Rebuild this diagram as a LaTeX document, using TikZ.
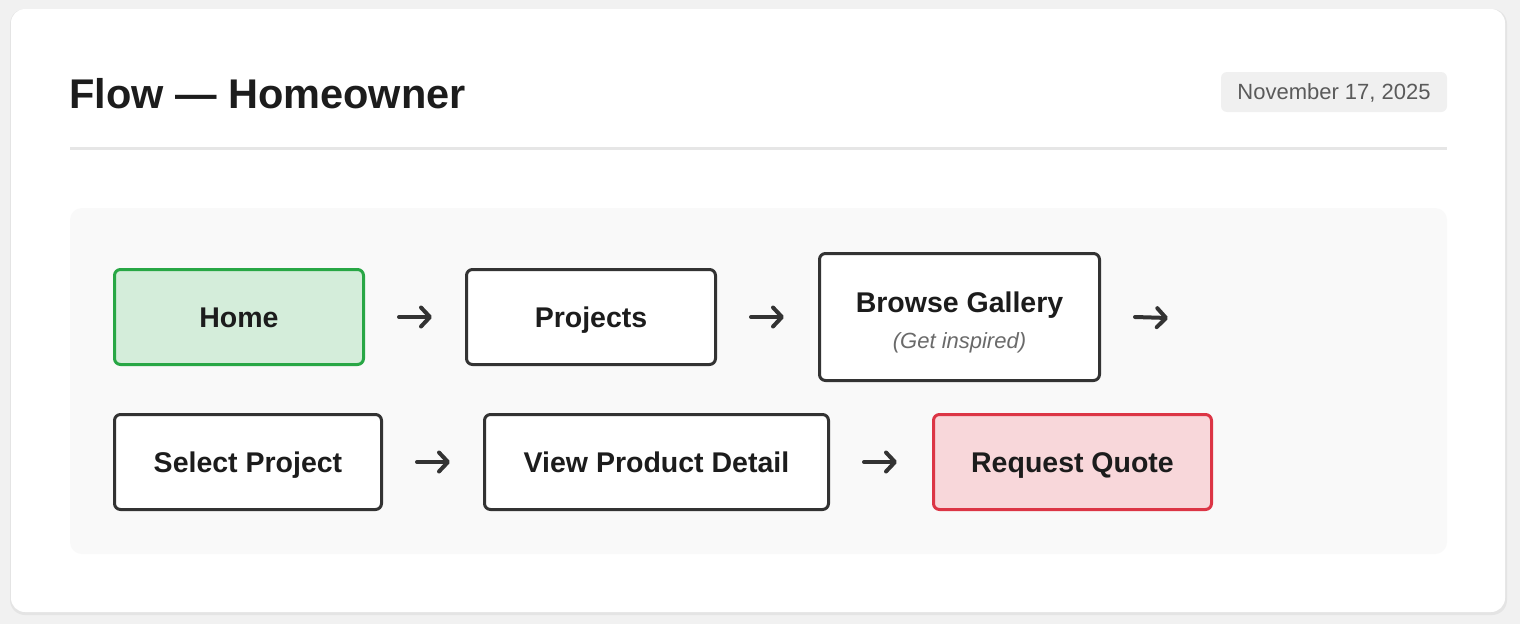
\documentclass[tikz,border=0pt]{standalone}
\usepackage{fontspec}
\setmainfont{Liberation Sans}
\usetikzlibrary{arrows.meta}

\definecolor{pagebg}{HTML}{F1F1F1}
\definecolor{shadowgrey}{HTML}{E4E4E4}
\definecolor{rulegrey}{HTML}{E6E6E6}
\definecolor{panelbg}{HTML}{F9F9F9}
\definecolor{boxline}{HTML}{333333}
\definecolor{inktext}{HTML}{1C1C1C}
\definecolor{dategrey}{HTML}{5A5A5A}
\definecolor{badgebg}{HTML}{F0F0F0}
\definecolor{subgrey}{HTML}{6A6A6A}
\definecolor{startline}{HTML}{28A745}
\definecolor{startfill}{HTML}{D4EDDA}
\definecolor{endline}{HTML}{DC3545}
\definecolor{endfill}{HTML}{F8D7DA}

\begin{document}
\begin{tikzpicture}[
    x=1pt, y=-1pt,
    boxbase/.style={rectangle, draw=boxline, line width=3pt, fill=white, rounded corners=6pt,
        minimum width=249pt, minimum height=95pt, align=center, text=inktext,
        font=\fontsize{28.5}{35}\selectfont\bfseries},
    box/.style={boxbase, text height=20.4pt, text depth=0pt},
    start/.style={box, draw=startline, fill=startfill},
    goal/.style={box, draw=endline, fill=endfill},
    datebadge/.style={rectangle, fill=badgebg, rounded corners=6pt, minimum width=226pt,
        minimum height=40pt, text=dategrey, font=\fontsize{22}{26}\selectfont,
        text height=15.8pt, text depth=0pt},
    flow/.style={-{Straight Barb[length=9pt, width=19pt, round]}, line width=4pt,
        line cap=round, boxline}
]
\useasboundingbox (0,0) rectangle (1520,624);

% Page and card
\fill[pagebg] (0,0) rectangle (1520,624);
\fill[shadowgrey, rounded corners=15pt] (10,9) rectangle (1507,615);
\fill[white, rounded corners=14pt] (11,9) rectangle (1505,612);

% Header
\node[anchor=base west, inner sep=0pt, text=inktext, font=\fontsize{41.5}{49}\selectfont\bfseries]
    (title) at (69,108) {Flow — Homeowner};
\node[datebadge] (date) at (1334,92) {November 17, 2025};
\draw[rulegrey, line width=3pt] (70,148) -- (1447,148);

% Flow panel
\fill[panelbg, rounded corners=12pt] (70,208) rectangle (1447,554);

% First row
\node[start] (home) at (239,317) {Home};
\node[box] (projects) at (591,317) {Projects};
\node[boxbase, minimum width=280pt, minimum height=127pt]
    (gallery) at (959.5,317) {\rule{0pt}{31pt}Browse Gallery\\[1pt]{\fontsize{22}{26}\selectfont\mdseries\itshape\color{subgrey}(Get inspired)}};
\coordinate (galleryend) at (1168,318);

% Second row
\node[box, minimum width=267pt] (select) at (248,462) {Select Project};
\node[box, minimum width=344pt] (detail) at (656.5,462) {View Product Detail};
\node[goal, minimum width=278pt] (quote) at (1072.5,462) {Request Quote};

% Connections
\draw[flow] ([xshift=34pt]home.east) -- ([xshift=-33pt]projects.west);
\draw[flow] ([xshift=34pt]projects.east) -- ([xshift=-34pt]gallery.west);
\draw[flow] ([xshift=34pt]gallery.east) -- (galleryend);

\draw[flow] ([xshift=34pt]select.east) -- ([xshift=-33pt]detail.west);
\draw[flow] ([xshift=34pt]detail.east) -- ([xshift=-35pt]quote.west);

\end{tikzpicture}
\end{document}
